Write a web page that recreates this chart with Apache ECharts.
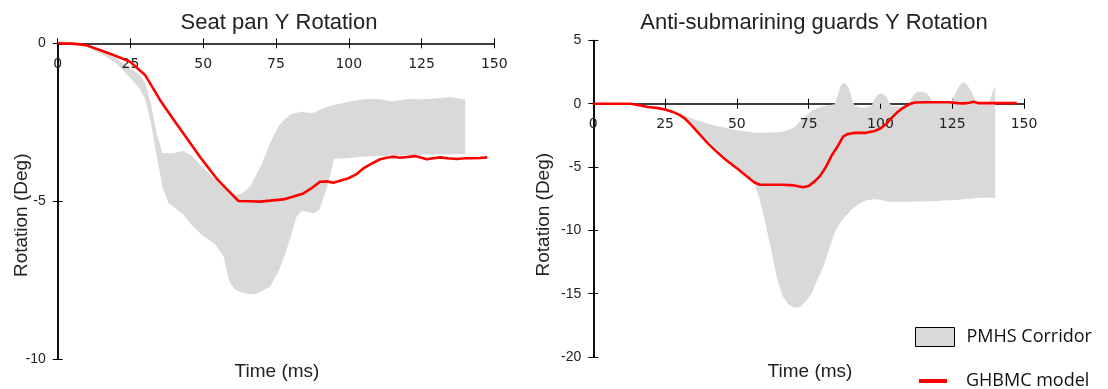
<!DOCTYPE html>
<html>
<head>
<meta charset="utf-8">
<title>Y Rotation</title>
<script src="https://cdn.jsdelivr.net/npm/echarts@6/dist/echarts.min.js"></script>
<style>
  html, body { margin: 0; padding: 0; background: #fff; }
  #chart { width: 1108px; height: 389px; }
</style>
</head>
<body>
<div id="chart"></div>
<script>
// seat pan - PMHS corridor
const seatCorridorTime = [0, 5, 10, 15, 20, 25, 28, 30, 32, 34, 36, 38, 40, 43, 46, 50, 54, 57, 59, 61, 63, 66, 68, 70, 73, 76, 78, 80, 82, 84, 86, 88, 90, 92, 93, 95, 100, 105, 110, 115, 120, 125, 130, 135, 140];
const seatCorridorUpper = [0, -0.02, -0.08, -0.25, -0.47, -0.8, -0.98, -1.25, -1.9, -2.85, -3.47, -3.48, -3.47, -3.4, -3.55, -3.95, -4.3, -4.55, -4.68, -4.78, -4.78, -4.55, -4.2, -3.85, -3.15, -2.6, -2.4, -2.25, -2.2, -2.17, -2.2, -2.2, -2.1, -2.03, -2.0, -1.95, -1.85, -1.77, -1.76, -1.84, -1.76, -1.77, -1.75, -1.7, -1.78];
const seatCorridorLower = [0, -0.03, -0.12, -0.33, -0.62, -1.1, -1.42, -1.75, -2.5, -3.55, -4.55, -5.05, -5.18, -5.4, -5.75, -6.1, -6.35, -6.75, -7.55, -7.8, -7.88, -7.94, -7.93, -7.85, -7.7, -7.2, -6.7, -6.15, -5.5, -5.3, -5.35, -5.38, -5.25, -4.7, -4.4, -3.66, -3.63, -3.58, -3.57, -3.55, -3.54, -3.53, -3.52, -3.51, -3.5];
// seat pan - GHBMC model
const seatModelTime = [0, 5, 9.4, 14.5, 19.1, 24.8, 30, 35.2, 39.7, 43.7, 48.9, 54.6, 59.2, 62.1, 66, 69.5, 73, 77.5, 81, 84.4, 87, 90.1, 92.5, 94.7, 97, 99.9, 102.5, 105, 108, 110.8, 113, 115.3, 117.6, 120, 122.8, 125, 126.8, 129, 131.4, 134, 137.1, 140, 142.8, 145, 147.6];
const seatModelValue = [0, -0.01, -0.05, -0.21, -0.37, -0.58, -1.0, -1.8, -2.4, -2.92, -3.6, -4.28, -4.72, -4.99, -5.0, -5.01, -4.98, -4.94, -4.85, -4.75, -4.6, -4.38, -4.37, -4.41, -4.35, -4.27, -4.15, -3.96, -3.8, -3.67, -3.62, -3.59, -3.62, -3.6, -3.57, -3.62, -3.67, -3.64, -3.61, -3.64, -3.66, -3.64, -3.64, -3.63, -3.61];

// anti-submarining guards - PMHS corridor
const guardCorridorTime = [0, 5, 10, 14, 18, 22, 26, 30, 34, 38, 42, 46, 50, 54, 56, 58, 60, 62, 64, 66, 68, 70, 72, 74, 76, 78, 80, 82, 84, 85, 86, 87, 88, 89, 90, 91, 93, 95, 97, 98, 99, 100, 101, 102, 103, 104, 107, 110, 111, 112, 113, 114, 115, 116, 117, 118, 120, 122, 124, 125, 126, 127, 128, 129, 130, 131, 132, 133, 134, 136, 138, 139, 140];
const guardCorridorUpper = [0, 0, 0, -0.05, -0.2, -0.3, -0.45, -0.75, -1.15, -1.45, -1.7, -1.9, -2.1, -2.22, -2.27, -2.3, -2.3, -2.28, -2.25, -2.2, -2.05, -1.85, -1.4, -0.95, -0.55, -0.35, -0.2, -0.12, -0.05, 0.6, 1.35, 1.65, 1.55, 1.25, 0.4, -0.15, -0.3, -0.3, -0.15, 0.4, 0.7, 0.82, 0.75, 0.55, 0.1, -0.2, -0.25, -0.05, 0.55, 0.8, 0.95, 0.95, 0.9, 0.85, 0.6, 0.2, 0.05, 0.05, 0.05, 0.3, 0.75, 1.2, 1.55, 1.68, 1.55, 1.2, 0.85, 0.2, 0, 0, 0.1, 0.9, 1.4];
const guardCorridorLower = [0, 0, 0, -0.08, -0.25, -0.4, -0.6, -0.85, -1.5, -2.45, -3.35, -4.2, -4.95, -5.7, -6.2, -7.6, -9.5, -11.6, -13.8, -15.2, -15.85, -16.1, -16.05, -15.6, -15.0, -13.9, -12.95, -11.6, -10.2, -9.75, -9.4, -9.1, -8.85, -8.6, -8.35, -8.15, -7.85, -7.65, -7.56, -7.55, -7.56, -7.6, -7.65, -7.7, -7.74, -7.75, -7.75, -7.74, -7.74, -7.73, -7.73, -7.72, -7.72, -7.71, -7.7, -7.7, -7.68, -7.65, -7.62, -7.6, -7.6, -7.58, -7.56, -7.54, -7.52, -7.5, -7.48, -7.46, -7.45, -7.42, -7.4, -7.42, -7.47];
// anti-submarining guards - GHBMC model
const guardModelTime = [0, 5, 10, 13, 16, 19, 22, 25, 28, 30, 32, 34, 37, 40, 43, 46, 50, 53, 56, 58, 62, 66, 70, 73, 75, 77, 79, 81, 83, 85, 87, 88.5, 91, 95, 98, 100, 102, 104, 106, 108, 110, 112, 116, 120, 124, 127, 129, 131, 132.5, 134, 137, 140, 144, 147.5];
const guardModelValue = [0, 0, 0, 0, -0.12, -0.26, -0.33, -0.46, -0.68, -0.88, -1.2, -1.65, -2.4, -3.15, -3.8, -4.4, -5.1, -5.65, -6.2, -6.4, -6.4, -6.4, -6.45, -6.6, -6.5, -6.15, -5.7, -5.0, -4.1, -3.4, -2.6, -2.4, -2.3, -2.3, -2.15, -1.95, -1.6, -1.1, -0.65, -0.3, -0.05, 0.1, 0.12, 0.12, 0.12, 0.05, 0.03, 0.08, 0.16, 0.05, 0.05, 0.05, 0.05, 0.05];

const timeRange = [0, 150];
const seatRange = [-10, 0];
const guardRange = [-20, 5];

const corridorColor = "#d9d9d9";
const modelColor = "#ff0000";
const textColor = "#222";

// grid boxes, px
const seatGrid = { left: 57.7, top: 43.3, width: 436.6, height: 316 };
const guardGrid = { left: 593.3, top: 40.4, width: 430.7, height: 316.6 };

function pairs(xs, ys) {
  return xs.map((x, i) => [x, ys[i]]);
}
// [value, time] so the value column is the one that gets stacked
function stackRows(xs, ys) {
  return xs.map((x, i) => [+ys[i].toFixed(3), x]);
}
function bandRows(xs, lower, upper) {
  return xs.map((x, i) => [+(upper[i] - lower[i]).toFixed(3), x]);
}

// x axis sits on the y = 0 line, labels below it.
// inner=false: line + upper ticks (under the corridor)
// inner=true : lower ticks + labels (over the corridor)
function makeX(grid, inner, range, gridBox) {
  const zeroOffset = -gridBox.height * range[1] / (range[1] - range[0]);
  return {
    type: "value",
    gridIndex: grid,
    position: "top",
    offset: zeroOffset,
    z: inner ? 3 : -2,
    min: timeRange[0],
    max: timeRange[1],
    interval: 25,
    axisLine: { show: !inner, onZero: false, lineStyle: { color: "#000", width: 1.5 } },
    axisTick: { show: true, inside: inner, length: 5, lineStyle: { color: "#000", width: 1 } },
    axisLabel: {
      show: inner,
      inside: true,
      margin: 14,
      fontFamily: "DejaVu Sans",
      fontSize: 14,
      color: textColor,
    },
    splitLine: { show: false },
  };
}

function makeY(grid, inner, range, gap, shift) {
  return {
    type: "value",
    gridIndex: grid,
    position: "left",
    min: range[0],
    max: range[1],
    interval: 5,
    name: inner ? "" : "Rotation (Deg)",
    nameLocation: "middle",
    nameGap: gap,
    nameMoveOverlap: false,
    nameTextStyle: {
      fontFamily: "Liberation Sans",
      fontSize: 19,
      color: textColor,
      padding: [0, shift, 0, 0],
    },
    axisLine: { onZero: false, lineStyle: { color: "#000", width: 1.5 } },
    axisTick: { show: true, inside: inner, length: 5, lineStyle: { color: "#000", width: 1 } },
    axisLabel: {
      show: !inner,
      margin: 12,
      fontFamily: "Liberation Sans",
      fontSize: 14,
      color: textColor,
    },
    splitLine: { show: false },
  };
}

function corridorSeries(axisIdx, stackName, xs, lower, upper) {
  const common = {
    type: "line",
    xAxisIndex: axisIdx,
    yAxisIndex: axisIdx,
    z: -1,
    stack: stackName,
    stackStrategy: "all",
    encode: { x: 1, y: 0 },
    symbol: "none",
    silent: true,
    lineStyle: { width: 0, opacity: 0 },
  };
  return [
    Object.assign({}, common, {
      name: "corridor-lower",
      data: stackRows(xs, lower),
    }),
    Object.assign({}, common, {
      name: "PMHS Corridor",
      itemStyle: { color: corridorColor },
      areaStyle: { color: corridorColor, opacity: 1 },
      data: bandRows(xs, lower, upper),
    }),
  ];
}

function modelSeries(axisIdx, xs, ys) {
  return {
    name: "GHBMC model",
    type: "line",
    xAxisIndex: axisIdx,
    yAxisIndex: axisIdx,
    z: 4,
    symbol: "none",
    itemStyle: { color: modelColor },
    lineStyle: { color: modelColor, width: 2.6 },
    data: pairs(xs, ys),
  };
}

const titleFont = { fontFamily: "Liberation Sans", fontSize: 22, fontWeight: "normal", color: textColor };
const nameFont = { fontFamily: "Liberation Sans", fontSize: 19, fontWeight: "normal", color: textColor };
const legendFont = { fontFamily: "Open Sans", fontSize: 18, color: "#111" };

const option = {
  animation: false,
  backgroundColor: "#fff",
  title: [
    { text: "Seat pan Y Rotation", left: 279, top: 12, textAlign: "center", padding: 0, textStyle: titleFont },
    { text: "Anti-submarining guards Y Rotation", left: 814, top: 12, textAlign: "center", padding: 0, textStyle: titleFont },
    { text: "Time (ms)", left: 277, top: 362, textAlign: "center", padding: 0, textStyle: nameFont },
    { text: "Time (ms)", left: 810, top: 362, textAlign: "center", padding: 0, textStyle: nameFont },
  ],
  legend: [
    {
      left: 915,
      top: 327,
      padding: 0,
      itemWidth: 39,
      itemHeight: 19,
      selectedMode: false,
      data: [{ name: "PMHS Corridor", icon: "rect" }],
      itemStyle: { color: corridorColor, borderColor: "#000", borderWidth: 1 },
      textStyle: Object.assign({ padding: [0, 0, 0, 7] }, legendFont),
    },
    {
      left: 919,
      top: 372,
      padding: 0,
      itemWidth: 28,
      itemHeight: 4,
      selectedMode: false,
      data: [{ name: "GHBMC model", icon: "rect" }],
      itemStyle: { color: modelColor, borderWidth: 0 },
      textStyle: Object.assign({ padding: [0, 0, 0, 14] }, legendFont),
    },
  ],
  grid: [seatGrid, guardGrid],
  xAxis: [
    makeX(0, false, seatRange, seatGrid),
    makeX(1, false, guardRange, guardGrid),
    makeX(0, true, seatRange, seatGrid),
    makeX(1, true, guardRange, guardGrid),
  ],
  yAxis: [
    makeY(0, false, seatRange, 26, 28),
    makeY(1, false, guardRange, 40, 32),
    makeY(0, true, seatRange, 0, 0),
    makeY(1, true, guardRange, 0, 0),
  ],
  series: [
    ...corridorSeries(0, "seat", seatCorridorTime, seatCorridorLower, seatCorridorUpper),
    modelSeries(0, seatModelTime, seatModelValue),
    ...corridorSeries(1, "guard", guardCorridorTime, guardCorridorLower, guardCorridorUpper),
    modelSeries(1, guardModelTime, guardModelValue),
  ],
};

const chart = echarts.init(document.getElementById("chart"));
chart.setOption(option);
</script>
</body>
</html>
